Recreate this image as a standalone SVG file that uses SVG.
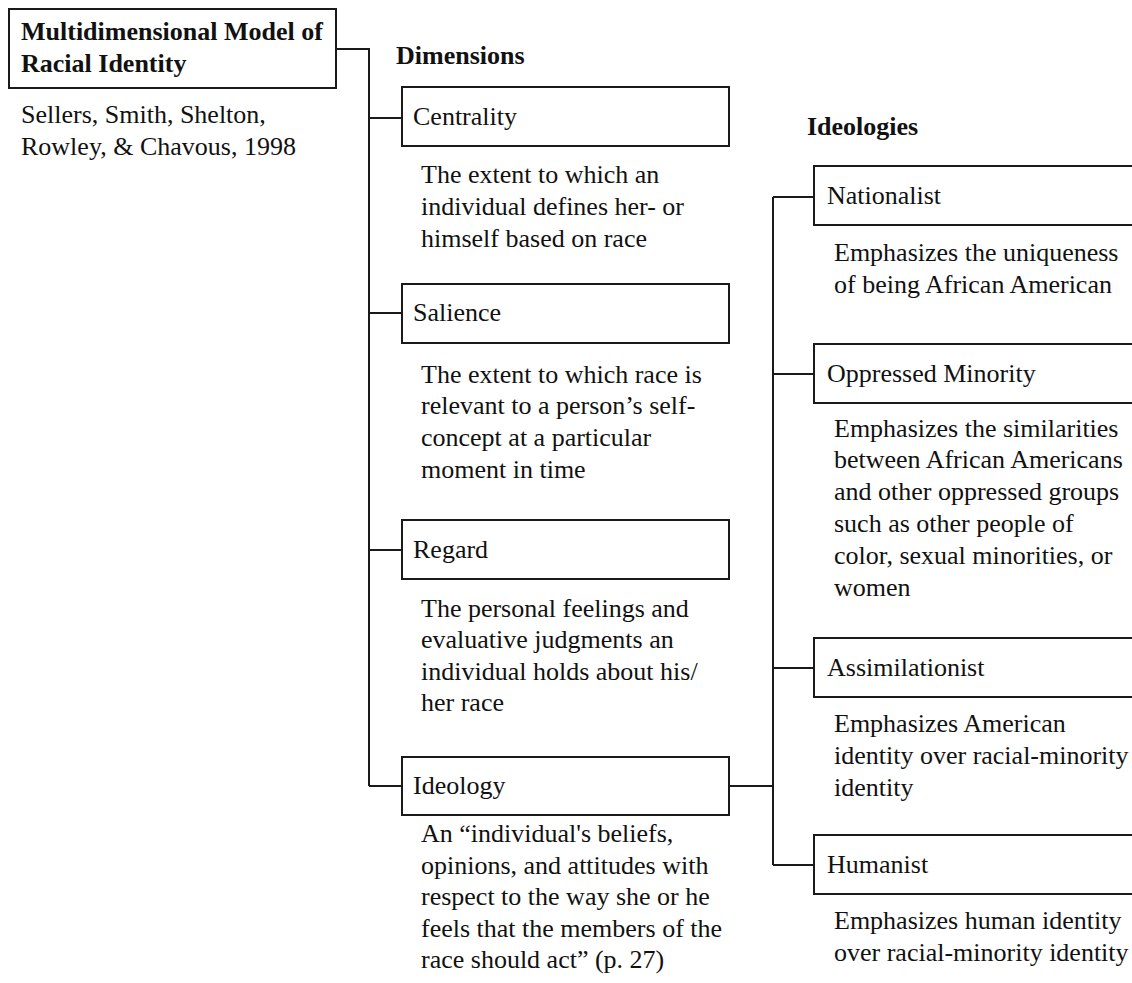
<svg xmlns="http://www.w3.org/2000/svg" width="1132" height="983" viewBox="0 0 1132 983">
<style>
text{font-family:'Liberation Serif','Times New Roman',Times,serif;font-size:26px;fill:#111}
.b{font-weight:bold}
.box{fill:#fff;stroke:#1a1a1a;stroke-width:2}
.ln{fill:none;stroke:#1a1a1a;stroke-width:2}
</style>
<rect width="1132" height="983" fill="#fff"/>
<g id="connectors">
<path class="ln" d="M336,49 H369 V786 M369,118 H402 M369,313 H402 M369,550 H402 M369,786 H402"/>
<path class="ln" d="M729,786 H773 M773,197 V865 M773,197 H814 M773,374 H814 M773,668 H814 M773,865 H814"/>
</g>
<g id="root">
<rect class="box" x="9" y="9" width="327" height="79"/>
<text class="b" x="21" y="40">Multidimensional Model of</text>
<text class="b" x="21" y="72">Racial Identity</text>
<text x="21" y="123">Sellers, Smith, Shelton,</text>
<text x="21" y="155">Rowley, &amp; Chavous, 1998</text>
</g>
<g id="hdr-dimensions"><text class="b" x="396" y="64">Dimensions</text></g>
<g id="hdr-ideologies"><text class="b" x="807" y="135">Ideologies</text></g>
<g id="centrality">
<rect class="box" x="402" y="87" width="327" height="59"/>
<text x="413" y="125">Centrality</text>
<text x="421" y="183">The extent to which an</text>
<text x="421" y="215">individual defines her- or</text>
<text x="421" y="247">himself based on race</text>
</g>
<g id="salience">
<rect class="box" x="402" y="284" width="327" height="59"/>
<text x="413" y="321">Salience</text>
<text x="421" y="383">The extent to which race is</text>
<text x="421" y="414">relevant to a person’s self-</text>
<text x="421" y="446">concept at a particular</text>
<text x="421" y="478">moment in time</text>
</g>
<g id="regard">
<rect class="box" x="402" y="520" width="327" height="59"/>
<text x="413" y="558">Regard</text>
<text x="421" y="617">The personal feelings and</text>
<text x="421" y="648">evaluative judgments an</text>
<text x="421" y="680">individual holds about his/</text>
<text x="421" y="711">her race</text>
</g>
<g id="ideology">
<rect class="box" x="402" y="757" width="327" height="58"/>
<text x="413" y="794">Ideology</text>
<text x="421" y="842">An “individual's beliefs,</text>
<text x="421" y="874">opinions, and attitudes with</text>
<text x="421" y="905">respect to the way she or he</text>
<text x="421" y="937">feels that the members of the</text>
<text x="421" y="968">race should act” (p. 27)</text>
</g>
<g id="nationalist">
<rect class="box" x="814" y="166" width="330" height="59"/>
<text x="827" y="204">Nationalist</text>
<text x="834" y="261">Emphasizes the uniqueness</text>
<text x="834" y="293">of being African American</text>
</g>
<g id="oppressed">
<rect class="box" x="814" y="344" width="330" height="59"/>
<text x="827" y="382">Oppressed Minority</text>
<text x="834" y="437">Emphasizes the similarities</text>
<text x="834" y="468">between African Americans</text>
<text x="834" y="500">and other oppressed groups</text>
<text x="834" y="532">such as other people of</text>
<text x="834" y="564">color, sexual minorities, or</text>
<text x="834" y="596">women</text>
</g>
<g id="assimilationist">
<rect class="box" x="814" y="638" width="330" height="59"/>
<text x="827" y="676">Assimilationist</text>
<text x="834" y="732">Emphasizes American</text>
<text x="834" y="764">identity over racial-minority</text>
<text x="834" y="796">identity</text>
</g>
<g id="humanist">
<rect class="box" x="814" y="835" width="330" height="59"/>
<text x="827" y="873">Humanist</text>
<text x="834" y="929">Emphasizes human identity</text>
<text x="834" y="961">over racial-minority identity</text>
</g>
</svg>
